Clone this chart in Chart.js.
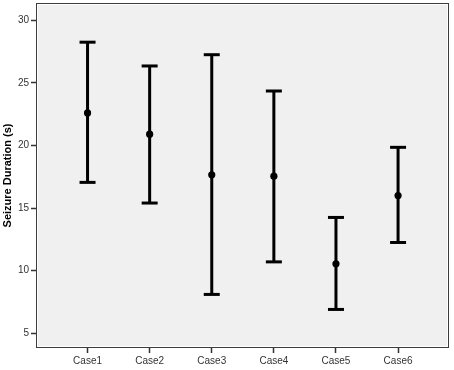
<!DOCTYPE html>
<html>
<head>
<meta charset="utf-8">
<script src="https://cdn.jsdelivr.net/npm/chart.js@4/dist/chart.umd.min.js"></script>
<style>
  html, body { margin: 0; padding: 0; background: #fff; }
  #wrap { width: 454px; height: 370px; }
</style>
</head>
<body>
<div id="wrap"><canvas id="c" width="454" height="370"></canvas></div>
<script>
// --- data ---
var cases = ['Case1', 'Case2', 'Case3', 'Case4', 'Case5', 'Case6'];
var means = [22.6, 20.9, 17.65, 17.55, 10.55, 16.0];
var upper = [28.25, 26.35, 27.25, 24.35, 14.25, 19.85];
var lower = [17.05, 15.4, 8.1, 10.7, 6.9, 12.25];
var yTicks = [5, 10, 15, 20, 25, 30];

// whisker segments, broken by null points
var whiskerPts = [];
var capPts = [];
var meanPts = [];
cases.forEach(function (name, i) {
  whiskerPts.push({ x: i, y: lower[i] }, { x: i, y: upper[i] }, { x: i, y: null });
  capPts.push({ x: i, y: lower[i] }, { x: i, y: upper[i] });
  meanPts.push({ x: i, y: means[i] });
});

// plot frame: grey fill, white inset, dark border
var framePlugin = {
  id: 'frame',
  beforeDraw: function (chart) {
    var a = chart.chartArea, ctx = chart.ctx;
    ctx.save();
    ctx.fillStyle = '#f0f0f0';
    ctx.fillRect(a.left, a.top, a.right - a.left, a.bottom - a.top);
    ctx.strokeStyle = '#ffffff';
    ctx.lineWidth = 1;
    ctx.strokeRect(a.left + 1.5, a.top + 1.5, a.right - a.left - 3, a.bottom - a.top - 3);
    ctx.restore();
  },
  afterDraw: function (chart) {
    var a = chart.chartArea, ctx = chart.ctx;
    ctx.save();
    ctx.strokeStyle = '#3c3c3c';
    ctx.lineWidth = 1;
    ctx.strokeRect(a.left + 0.5, a.top + 0.5, a.right - a.left - 1, a.bottom - a.top - 1);
    ctx.restore();
  }
};

var tickFont = { family: 'Arial, "Liberation Sans", sans-serif', size: 10 };

new Chart(document.getElementById('c').getContext('2d'), {
  type: 'scatter',
  data: {
    datasets: [
      {
        label: 'whisker',
        data: whiskerPts,
        showLine: true,
        spanGaps: false,
        borderColor: '#000',
        borderWidth: 3,
        pointRadius: 0,
        order: 3
      },
      {
        label: 'caps',
        data: capPts,
        pointStyle: 'line',
        pointRadius: 8,
        borderColor: '#000',
        borderWidth: 3,
        order: 2
      },
      {
        label: 'mean',
        data: meanPts,
        pointStyle: 'circle',
        pointRadius: 3.6,
        backgroundColor: '#000',
        borderColor: '#000',
        borderWidth: 0,
        order: 1
      }
    ]
  },
  options: {
    responsive: false,
    animation: false,
    layout: { autoPadding: false, padding: { top: 3, right: 5, left: 0, bottom: 0 } },
    plugins: {
      legend: { display: false },
      tooltip: { enabled: false }
    },
    scales: {
      x: {
        type: 'linear',
        min: -0.83,
        max: 5.82,
        afterBuildTicks: function (axis) {
          axis.ticks = cases.map(function (n, i) { return { value: i }; });
        },
        afterFit: function (axis) {
          axis.height = 22;
          axis.paddingLeft = 0;
          axis.paddingRight = 0;
        },
        ticks: {
          color: '#333',
          font: tickFont,
          padding: 2,
          maxRotation: 0,
          autoSkip: false,
          callback: function (v) { return cases[v]; }
        },
        grid: { drawOnChartArea: false, tickLength: 5, tickColor: '#333', tickWidth: 1.5 },
        border: { display: false }
      },
      y: {
        min: 3.82,
        max: 31.38,
        afterBuildTicks: function (axis) {
          axis.ticks = yTicks.map(function (v) { return { value: v }; });
        },
        afterFit: function (axis) {
          axis.width = 36;
          axis.paddingTop = 0;
          axis.paddingBottom = 0;
        },
        ticks: { color: '#333', font: tickFont, padding: 2 },
        grid: { drawOnChartArea: false, tickLength: 5, tickColor: '#333', tickWidth: 1.5 },
        border: { display: false },
        title: {
          display: true,
          text: 'Seizure Duration (s)',
          color: '#000',
          font: { family: 'Arial, "Liberation Sans", sans-serif', size: 11, weight: 'bold' },
          padding: { top: 1, bottom: 0 }
        }
      }
    }
  },
  plugins: [framePlugin]
});
</script>
</body>
</html>
